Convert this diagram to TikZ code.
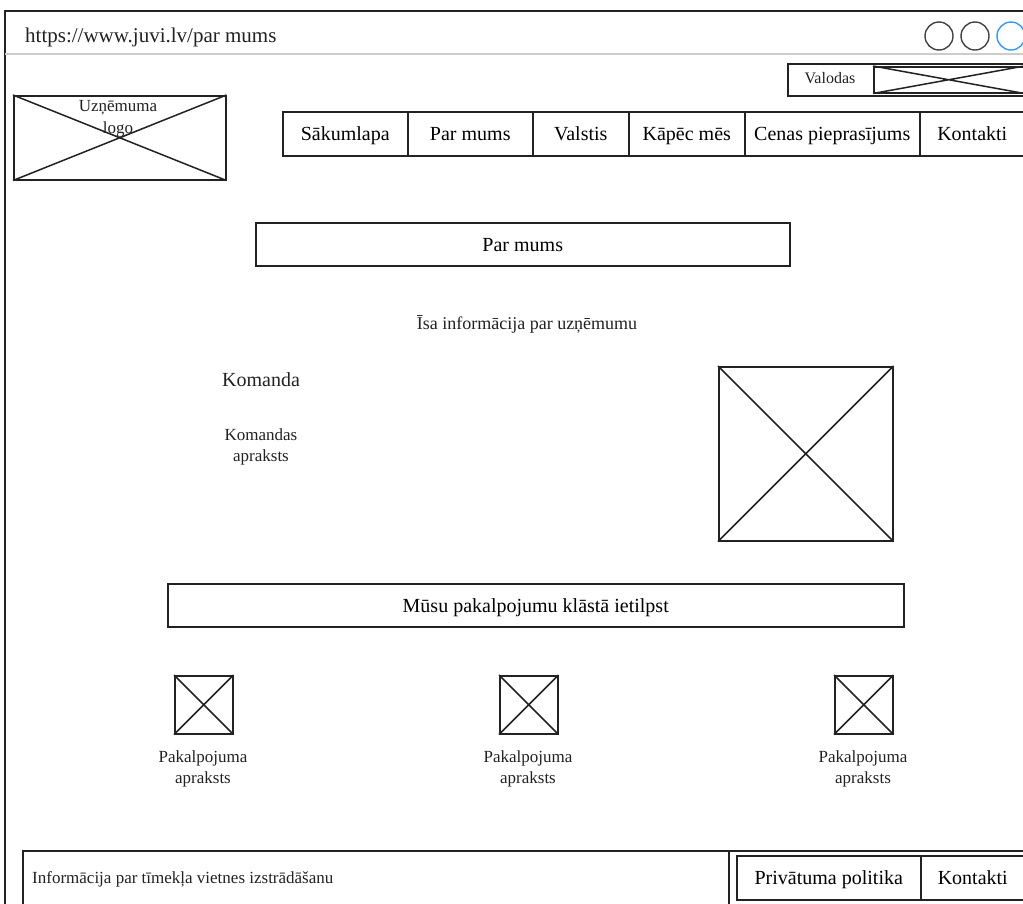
\documentclass[tikz,border=0pt]{standalone}
\usepackage{fontspec}
\setmainfont{Liberation Serif}
\definecolor{ink}{RGB}{34,34,34}
\definecolor{barline}{RGB}{204,204,204}
\definecolor{activeblue}{RGB}{51,153,255}
\newcommand{\fsz}[1]{\fontsize{#1}{#1}\selectfont}
\tikzset{
  wire/.style={draw=ink, line width=1.5pt},
  box/.style={wire, fill=white, rectangle, inner sep=0pt, anchor=north west,
    text height=15pt, text depth=1pt, font=\fsz{20}},
  label/.style={inner sep=0pt, text=ink, font=\fsz{20}},
  small/.style={inner sep=0pt, text=ink, align=center, font=\fontsize{17}{21.5}\selectfont},
  dot/.style={circle, draw=ink!85, line width=1.4pt, minimum size=28pt, inner sep=0pt},
}
\newcommand{\crossbox}[1]{%
  \draw[wire] (#1.north west) -- (#1.south east) (#1.south west) -- (#1.north east);}
\begin{document}
\begin{tikzpicture}[x=1pt,y=-1pt]
\useasboundingbox (0,0) rectangle (1023,903);
\clip (0,0) rectangle (1023,903);
\fill[white] (0,0) rectangle (1023,903);

% browser window
\coordinate (frameTL) at (5,11);
\coordinate (frameBR) at (1040,920);
\draw[wire] (frameTL) rectangle (frameBR);
\coordinate (barL) at (5,54);
\coordinate (barR) at (1040,54);
\draw[barline, line width=2pt] (barL) -- (barR);
\node[label, anchor=west, font=\fsz{21}] (url) at (25,37) {https://www.juvi.lv/par mums};
\node[dot] (c1) at (939,36) {};
\node[dot] (c2) at (975,36) {};
\node[dot, draw=activeblue] (c3) at (1011,36) {};

% language selector
\node[box, minimum width=240, minimum height=32] (lang) at (787,63) {};
\node[label, font=\fsz{16}] (langtxt) at (830,78) {Valodas};
\node[box, minimum width=150, minimum height=26] (langsel) at (873,66) {};
\crossbox{langsel}

% logo placeholder
\node[box, minimum width=212, minimum height=84] (logo) at (13,95) {};
\crossbox{logo}
\node[small] (logotxt) at (118,119) {Uzņēmuma\\logo};

% navigation bar
\node[box, minimum width=125, minimum height=44] (n1) at (282,111) {Sākumlapa};
\node[box, minimum width=125, minimum height=44] (n2) at (407,111) {Par mums};
\node[box, minimum width=96, minimum height=44] (n3) at (532,111) {Valstis};
\node[box, minimum width=116, minimum height=44] (n4) at (628,111) {Kāpēc mēs};
\node[box, minimum width=175, minimum height=44] (n5) at (744,111) {Cenas pieprasījums};
\node[box, minimum width=105, minimum height=44] (n6) at (919,111) {Kontakti};

% page heading
\node[box, minimum width=534, minimum height=43] (title) at (255,222) {Par mums};
\node[small, font=\fsz{18}] (intro) at (527,324) {Īsa informācija par uzņēmumu};

% team section
\node[label] (team) at (261,380) {Komanda};
\node[small] (teamtxt) at (261,447) {Komandas\\apraksts};
\node[box, minimum width=174, minimum height=174] (teamimg) at (718,366) {};
\crossbox{teamimg}

% services
\node[box, minimum width=736, minimum height=43] (services) at (167,583) {Mūsu pakalpojumu klāstā ietilpst};
\node[box, minimum width=58, minimum height=58] (s1) at (174,675) {};
\node[box, minimum width=58, minimum height=58] (s2) at (499,675) {};
\node[box, minimum width=58, minimum height=58] (s3) at (834,675) {};
\crossbox{s1}
\crossbox{s2}
\crossbox{s3}
\node[small] (s1txt) at (203,769) {Pakalpojuma\\apraksts};
\node[small] (s2txt) at (528,769) {Pakalpojuma\\apraksts};
\node[small] (s3txt) at (863,769) {Pakalpojuma\\apraksts};

% footer
\node[box, minimum width=1020, minimum height=70] (footer) at (22,850) {};
\coordinate (divTop) at (729,850);
\coordinate (divBot) at (729,920);
\draw[wire] (divTop) -- (divBot);
\node[small, anchor=west] (footinfo) at (32,879) {Informācija par tīmekļa vietnes izstrādāšanu};
\node[box, minimum width=184, minimum height=44] (f1) at (736,855) {Privātuma politika};
\node[box, minimum width=104, minimum height=44] (f2) at (920,855) {Kontakti};
\end{tikzpicture}
\end{document}
